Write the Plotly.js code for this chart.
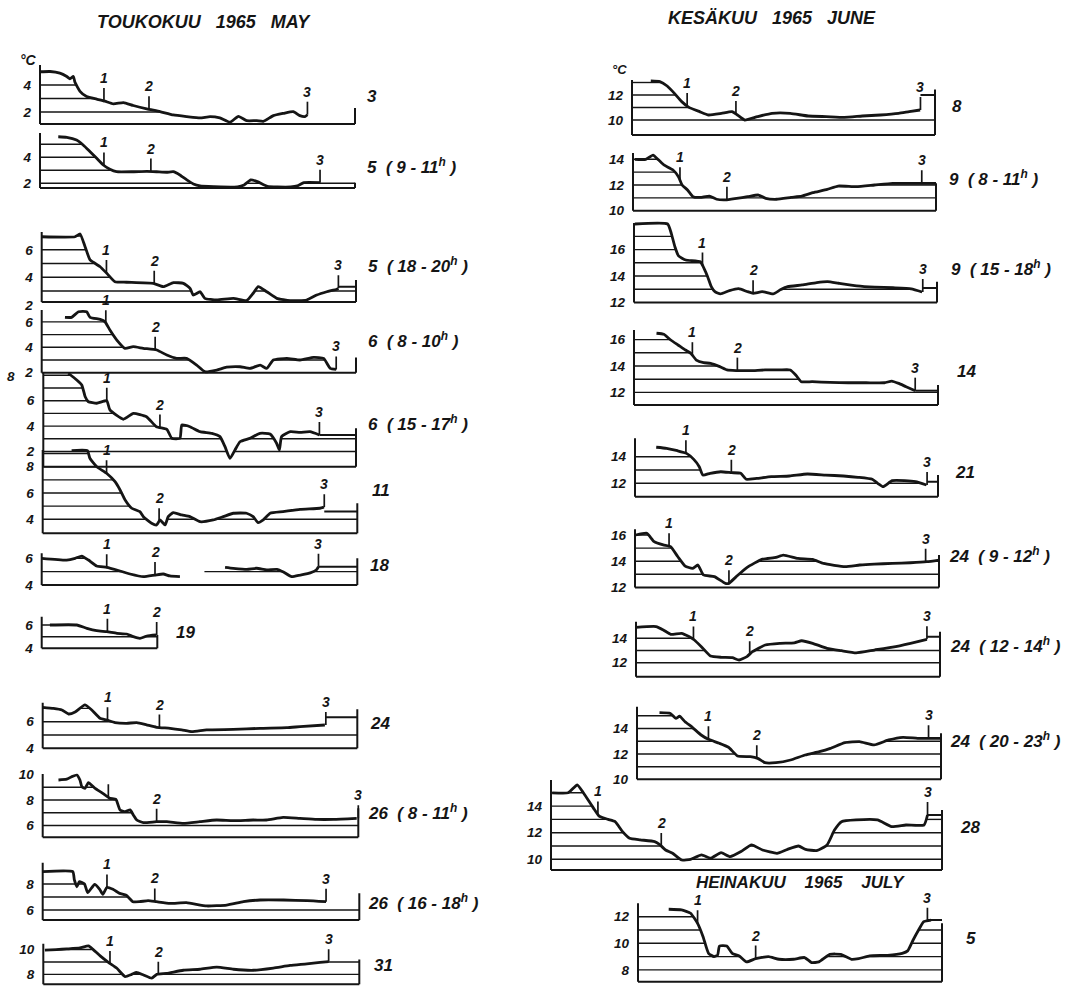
<!DOCTYPE html>
<html>
<head>
<meta charset="utf-8">
<script src="https://cdn.plot.ly/plotly-3.0.1.min.js"></script>
<style>html,body{margin:0;padding:0;background:#fff;}#chart{width:1076px;height:987px;}</style>
</head>
<body>
<div id="chart"></div>
<script>
// ---------- DATA (x = position along the profile, 0..100 of panel length; t = temperature °C) ----------
const may03X = [0,3.2,6.3,8.5,9.5,10.6,11.1,12.7,14.8,18.0,20.6,23.3,26.5,29.6,33.9,38.1,42.3,46.6,50.8,54.0,57.1,60.3,63.0,65.6,68.8,70.9,74.1,77.3,80.4,82.5,84.1,84.9];
const may03T = [4.98,5.0,4.88,4.63,4.46,4.63,4.2,3.53,3.14,2.95,2.8,2.6,2.7,2.48,2.23,2.03,1.78,1.66,1.56,1.66,1.56,1.24,1.68,1.36,1.36,1.31,1.73,1.9,2.03,1.73,1.66,1.8];
const may03Marks = [20.3,34.6,84.9];

const may05aX = [5.8,8.5,11.6,13.7,15.9,18.0,20.1,22.2,24.3,29.6,33.9,37.0,40.2,42.3,44.4,46.6,48.7,50.8,55.1,62.7,64.8,66.9,69.0,72.2,75.4,79.6,81.7,83.8,88.9];
const may05aT = [5.58,5.54,5.33,4.95,4.43,3.92,3.41,3.08,2.89,2.89,2.92,2.89,2.85,2.89,2.64,2.26,1.95,1.8,1.75,1.72,1.87,2.26,2.13,1.77,1.72,1.72,1.8,2.05,2.05];
const may05aMarks = [20.3,35.2,88.9];

const may05bX = [0,10.6,12.2,13.8,15.4,18.6,20.7,23.3,27.0,35.5,38.7,41.9,45.1,47.2,48.2,50.4,51.9,55.7,61.0,65.2,67.3,68.9,71.6,74.8,79.0,84.3,87.5,90.7,93.9,94.4];
const may05bT = [6.95,6.95,7.15,6.23,5.26,4.77,4.29,3.68,3.64,3.56,3.32,3.61,3.56,3.2,2.71,2.95,2.47,2.35,2.47,2.3,2.84,3.32,2.95,2.47,2.3,2.35,2.71,2.95,3.13,3.2];
const may05bMarks = [20.6,35.8,94.4];

const may06aX = [7.4,9.5,11.7,14.3,15.4,18.6,20.1,21.7,23.9,26.5,29.1,32.3,36.6,39.8,42.9,46.1,49.3,51.9,55.7,58.8,63.1,66.3,69.5,71.6,73.7,78.0,82.2,86.5,89.7,91.8,93.7];
const may06aT = [6.36,6.36,6.8,6.8,6.36,6.2,6.02,5.36,4.57,3.92,4.05,3.92,3.79,3.39,3.13,3.13,2.6,2.08,2.21,2.43,2.47,2.34,2.6,2.34,3.0,3.13,3.0,3.2,3.13,2.34,2.26];
const may06aMarks = [20.4,36.1,93.7];

const may06bX = [8.0,10.7,12.3,13.4,14.4,17.1,20.3,21.3,25.6,28.8,33.0,36.2,39.5,41.1,43.7,44.3,46.9,50.1,53.9,56.5,58.1,59.7,61.3,62.9,66.1,69.3,72.5,74.6,75.5,76.2,79.0,82.1,85.3,88.3];
const may06bT = [8.16,7.63,7.24,6.31,5.92,5.8,6.0,5.27,4.54,5.0,4.74,3.95,3.75,3.04,3.04,4.09,3.95,3.56,3.43,3.17,2.38,1.46,2.12,2.77,3.04,3.43,3.38,2.65,2.12,3.17,3.56,3.5,3.56,3.3];
const may06bMarks = [20.3,37.3,88.3];

const may11X = [9.2,14.2,15.0,17.2,20.3,23.0,24.6,26.2,28.3,30.9,32.0,34.6,36.2,37.3,38.9,39.9,41.5,44.2,46.8,50.0,54.2,57.4,60.6,64.8,66.9,68.5,70.1,72.3,76.4,81.8,88.1,89.4];
const may11T = [9.22,9.22,8.64,8.0,7.5,6.86,6.23,5.47,4.84,4.58,4.2,3.7,3.57,3.95,3.57,4.2,4.5,4.33,4.2,3.82,3.95,4.2,4.46,4.46,4.2,3.74,3.95,4.46,4.58,4.76,4.84,4.92];
const may11Marks = [20.3,37.0,89.5];

const may18X = [0,7.9,10.6,12.7,14.8,17.4,20.6,23.8,28.0,32.2,35.9,38.5,40.6,43.8,null,58.1,60.7,65.0,68.1,71.3,74.5,76.6,79.2,81.9,85.1,87.0,87.7];
const may18T = [6.0,5.87,6.0,6.17,5.87,5.42,5.32,5.12,4.82,4.62,4.74,4.82,4.67,4.62,null,5.32,5.25,5.17,5.25,5.12,5.17,4.97,4.62,4.74,4.9,5.12,5.37];
const may18Marks = [20.6,35.9,87.7];

const may19X = [2.6,11.1,14.3,17.4,20.6,23.8,26.9,29.0,31.1,33.3,36.2];
const may19T = [6.0,6.0,5.72,5.52,5.43,5.29,5.23,5.0,4.86,5.06,5.15];
const may19Marks = [20.8,36.4];

const may24X = [0,3.4,6.1,8.2,10.3,13.4,15.6,18.2,20.3,23.0,26.7,29.9,33.0,36.2,40.5,44.2,47.4,52.1,60.6,69.1,77.6,81.8,89.7];
const may24T = [7.08,7.0,6.88,6.58,6.73,7.26,6.88,6.26,6.13,5.93,5.88,5.93,5.76,5.58,5.5,5.38,5.25,5.38,5.42,5.5,5.55,5.63,5.75];
const may24Marks = [20.6,37.1,90.0];

const may26aX = [5.0,7.6,9.2,10.8,11.8,12.4,13.4,14.5,16.6,18.7,21.3,23.2,24.5,26.1,27.7,28.7,29.8,31.9,36.1,39.3,44.6,49.8,55.1,60.3,66.7,70.9,76.2,81.5,86.8,92.1,99.5];
const may26aT = [9.57,9.63,9.83,9.96,9.57,9.04,8.91,9.36,8.91,8.58,8.13,8.05,7.22,7.09,7.22,6.83,6.43,6.22,6.3,6.3,6.17,6.3,6.43,6.38,6.43,6.43,6.64,6.56,6.48,6.48,6.56];
const may26aMarks = [20.8,36.1,100];

const may26bX = [0,9.5,10.0,10.8,11.6,13.2,14.2,16.4,18.0,19.0,20.3,22.2,24.3,26.4,28.5,30.6,33.3,35.9,40.2,45.4,51.8,58.1,63.4,68.7,76.1,83.5,89.5];
const may26bT = [8.95,8.95,8.31,7.79,8.18,8.0,7.33,7.97,7.59,7.21,7.74,7.59,7.28,7.13,6.64,6.64,6.72,6.64,6.51,6.56,6.31,6.38,6.64,6.77,6.77,6.72,6.64];
const may26bMarks = [20.3,35.4,89.5];

const may31X = [0.5,4.2,7.4,11.6,14.3,15.8,18.0,20.6,23.2,25.9,28.0,29.5,31.7,34.3,35.9,39.0,44.3,49.6,54.9,60.2,66.5,72.8,78.1,83.4,87.6,90.3];
const may31T = [9.95,10.0,10.05,10.13,10.3,10.0,9.49,8.97,8.51,7.82,8.0,8.15,7.95,7.69,8.0,8.08,8.33,8.41,8.59,8.41,8.33,8.51,8.72,8.85,8.97,9.03];
const may31Marks = [21.1,36.4,90.3];

const jun08X = [6.2,9.2,11.6,14.0,16.4,18.8,22.3,25.3,29.5,33.0,34.8,37.2,41.4,46.2,52.2,58.1,64.1,70.1,76.0,82.0,88.0,91.5,95.1];
const jun08T = [13.12,13.07,12.72,12.13,11.47,11.01,10.67,10.4,10.53,10.67,10.4,10.0,10.27,10.53,10.53,10.32,10.27,10.21,10.32,10.4,10.53,10.67,10.8];
const jun08Marks = [18.2,34.3,95.2];

const jun09aX = [0.6,4.2,6.6,8.4,10.2,13.2,15.0,16.2,18.0,19.8,22.2,25.2,27.6,30.6,34.2,37.8,41.4,43.8,47.4,52.2,55.7,59.3,64.1,67.7,73.7,79.7,85.7,91.7,95.3,100];
const jun09aT = [14.0,14.0,14.33,13.96,13.56,13.17,12.65,12.0,11.61,11.09,11.04,11.14,10.89,10.84,10.96,11.09,11.22,10.96,10.89,11.04,11.14,11.4,11.66,11.92,11.87,12.0,12.13,12.13,12.13,12.13];
const jun09aMarks = [15.5,31.0,95.3];

const jun09bX = [0.3,11.1,12.3,13.5,14.7,17.1,21.9,23.1,24.3,25.5,26.7,28.5,31.5,34.5,37.5,39.3,42.3,45.9,48.3,50.7,55.5,60.3,63.9,67.5,73.5,79.5,85.5,91.5,95.1];
const jun09bT = [17.94,17.94,17.23,16.22,15.52,15.21,15.08,14.58,13.95,13.19,12.81,12.64,12.89,13.04,12.81,12.69,12.81,12.64,12.95,13.19,13.32,13.5,13.57,13.45,13.26,13.16,13.11,13.03,12.79];
const jun09bMarks = [22.6,39.3,95.3];

const jun14X = [7.4,9.8,12.1,14.5,16.9,18.7,20.5,22.9,25.2,28.2,30.6,33.6,38.3,43.1,47.9,51.4,53.2,55.0,58.6,64.5,70.5,76.4,82.4,84.8,87.1,89.5,92.5];
const jun14T = [16.48,16.4,15.97,15.59,15.21,14.96,14.45,14.25,14.2,13.95,13.7,13.65,13.65,13.7,13.7,13.7,13.32,12.81,12.81,12.76,12.73,12.73,12.73,12.86,12.68,12.43,12.13];
const jun14Marks = [19.2,34.0,92.5];

const jun21X = [7.0,10.4,14.0,17.0,19.4,21.2,22.4,24.8,28.3,31.9,34.9,36.7,40.2,45.0,51.0,56.9,62.9,68.8,73.6,78.3,80.1,81.9,84.9,89.0,92.6,96.2];
const jun21T = [14.71,14.63,14.45,14.25,13.8,13.25,12.62,12.75,12.87,12.8,12.75,12.3,12.37,12.5,12.55,12.7,12.62,12.55,12.45,12.3,12.0,11.75,12.2,12.2,12.12,11.87];
const jun21Marks = [16.8,31.8,96.4];

const jun24aX = [0.3,3.9,6.3,9.3,11.7,14.1,16.5,18.9,20.7,22.5,26.1,29.7,30.9,33.3,36.9,41.7,46.4,48.8,53.6,58.4,62.0,69.1,73.9,78.7,84.7,90.6,96.0,100];
const jun24aT = [16.0,16.13,15.49,15.24,15.11,14.34,13.63,13.45,13.71,12.95,12.82,12.31,12.31,12.82,13.53,14.14,14.29,14.47,14.21,14.14,13.83,13.58,13.71,13.78,13.83,13.88,13.96,14.09];
const jun24aMarks = [11.2,30.9,95.6];

const jun24bX = [0,6.6,9.0,11.4,15.0,17.4,19.2,21.5,24.5,28.1,31.7,33.9,36.5,38.3,42.5,47.3,52.1,54.5,58.1,62.8,67.6,72.4,78.4,84.4,90.3,95.7];
const jun24bT = [14.9,14.96,14.68,14.33,14.41,14.14,13.86,13.31,12.55,12.44,12.41,12.22,12.5,12.9,13.45,13.59,13.63,13.8,13.59,13.18,12.98,12.81,13.04,13.27,13.59,13.92];
const jun24bMarks = [18.9,37.4,95.7];

const jun24cX = [7.4,11.0,12.8,14.0,15.8,18.2,21.1,23.5,27.1,30.1,33.1,37.3,39.7,42.1,45.7,50.5,55.3,60.0,63.6,68.4,73.2,78.0,82.8,87.5,92.3,95.9,100];
const jun24cT = [15.24,15.18,14.79,14.97,14.53,14.09,13.49,13.15,12.84,12.53,11.84,11.79,11.66,11.32,11.32,11.53,11.92,12.18,12.44,12.89,12.97,12.71,13.1,13.31,13.23,13.23,13.23];
const jun24cMarks = [23.5,39.4,95.9];

const jun28X = [0.3,4.4,6.7,8.1,9.5,10.9,12.3,14.6,16.4,18.3,20.1,22.8,26.5,27.9,29.3,31.1,33.4,35.7,38.5,40.8,43.5,45.8,48.6,51.3,54.1,57.8,60.5,63.3,65.1,67.9,70.6,72.5,74.3,78.0,83.5,87.1,90.8,95.4,96.3];
const jun28T = [15.0,15.0,15.59,15.08,14.46,13.83,13.25,13.0,12.83,12.08,11.58,11.46,11.33,11.08,10.7,10.45,9.95,10.0,10.33,10.08,10.5,10.2,10.58,11.08,10.7,10.45,10.75,11.0,10.75,10.65,11.08,12.2,12.83,12.96,12.96,12.46,12.58,12.58,13.33];
const jun28Marks = [12.0,28.2,96.3];

const jul05X = [10.1,14.3,17.3,19.6,21.4,23.2,25.0,26.2,26.8,29.2,31.0,33.3,35.7,38.7,42.9,46.4,51.2,54.8,57.1,59.5,63.1,66.7,70.2,72.6,76.2,82.1,86.9,88.7,90.5,92.3,94.0,96.4];
const jul05T = [12.56,12.51,12.26,11.5,10.5,9.25,9.0,9.12,9.8,9.8,9.25,9.05,8.6,8.85,9.0,8.8,8.8,8.93,8.55,8.6,9.17,9.17,8.8,8.85,9.05,9.1,9.25,9.43,10.25,11.0,11.63,11.75];
const jul05Marks = [19.6,38.7,95.2];

// tick labels (°C) of each panel
const tickSets = [[2,4],[2,4],[2,4,6],[2,4,6],[2,4,6],[4,6,8],[4,6],[4,6],[4,6],[6,8,10],[6,8],[8,10],
                  [10,12],[10,12,14],[12,14,16],[12,14,16],[12,14],[12,14,16],[12,14],[10,12,14],[10,12,14],[8,10,12]];
const extraTick = '8';   // top label of the 6 (15-17h) panel, written beside the "2" of the panel above
// panel captions (day and hours)
const panelLabels = ['3','5  ( 9 - 11<sup>h</sup> )','5  ( 18 - 20<sup>h</sup> )','6  ( 8 - 10<sup>h</sup> )','6  ( 15 - 17<sup>h</sup> )','11','18','19','24','26  ( 8 - 11<sup>h</sup> )','26  ( 16 - 18<sup>h</sup> )','31',
                     '8','9  ( 8 - 11<sup>h</sup> )','9  ( 15 - 18<sup>h</sup> )','14','21','24  ( 9 - 12<sup>h</sup> )','24  ( 12 - 14<sup>h</sup> )','24  ( 20 - 23<sup>h</sup> )','28','5'];
// level (°C) of the end bracket at the right edge, and of the connector from point 3 (null = none)
const rightEndTops = [2.3,2.05,3.8,3.2,3.83,5.22,6.0,5.15,6.93,7.35,7.28,9.2, 12.45,12.13,13.57,12.56,12.62,14.47,14.54,13.62,13.7,11.5];
const connectorLevels = [null,null,3.32,null,3.3,4.6,5.37,null,6.33,null,null,null, 12.0,null,13.1,12.13,12.12,null,14.13,null,13.33,11.75];
const markNames = ['1','2','3'];
const titles = ['TOUKOKUU   1965   MAY','KESÄKUU   1965   JUNE','HEINAKUU    1965    JULY'];

// ---------- LAYOUT GEOMETRY (pixels) ----------
const series = [
 [may03X,may03T,may03Marks],[may05aX,may05aT,may05aMarks],[may05bX,may05bT,may05bMarks],[may06aX,may06aT,may06aMarks],
 [may06bX,may06bT,may06bMarks],[may11X,may11T,may11Marks],[may18X,may18T,may18Marks],[may19X,may19T,may19Marks],
 [may24X,may24T,may24Marks],[may26aX,may26aT,may26aMarks],[may26bX,may26bT,may26bMarks],[may31X,may31T,may31Marks],
 [jun08X,jun08T,jun08Marks],[jun09aX,jun09aT,jun09aMarks],[jun09bX,jun09bT,jun09bMarks],[jun14X,jun14T,jun14Marks],
 [jun21X,jun21T,jun21Marks],[jun24aX,jun24aT,jun24aMarks],[jun24bX,jun24bT,jun24bMarks],[jun24cX,jun24cT,jun24cMarks],
 [jun28X,jun28T,jun28Marks],[jul05X,jul05T,jul05Marks]
];
const geo = [
 {L:40,R:355,top:65,bottom:124,rv:4,rp:85,ppd:13.5,lx:365,ly:97},
 {L:40,R:355,top:133,bottom:188,rv:4,rp:157.3,ppd:13,lx:365,ly:166},
 {L:41.7,R:356,top:232,bottom:302,rv:4,rp:277.3,ppd:13.75,lx:366,ly:265},
 {L:41.7,R:356,top:310,bottom:372.7,rv:2,rp:372.7,ppd:12.7,lx:366,ly:340},
 {L:43.3,R:356,top:373,bottom:466.7,rv:6,rp:400.7,ppd:12.7,lx:366,ly:423},
 {L:42.7,R:357.3,top:450,bottom:533.3,rv:4,rp:519.3,ppd:13.15,lx:370,ly:490},
 {L:41.7,R:357.3,top:553.3,bottom:585,rv:6,rp:558.3,ppd:13.3,lx:368,ly:565},
 {L:41.7,R:157.3,top:616.7,bottom:648.3,rv:6,rp:625,ppd:11.7,lx:174,ly:632,xmax:36.6},
 {L:42.7,R:357.3,top:702.7,bottom:748.3,rv:6,rp:721.7,ppd:13.3,lx:368,ly:723},
 {L:42.7,R:358.3,top:774,bottom:837.3,rv:8,rp:800,ppd:12.75,lx:366,ly:812,hide1:true},
 {L:42.7,R:359.3,top:862.7,bottom:920,rv:8,rp:884,ppd:13,lx:366,ly:902},
 {L:43.3,R:359.3,top:944,bottom:986.3,rv:10,rp:950,ppd:13,lx:372,ly:965},
 {L:632,R:935,top:80,bottom:135,rv:10,rp:120,ppd:12.5,lx:950,ly:106},
 {L:633,R:936,top:153,bottom:210.7,rv:12,rp:185,ppd:12.85,lx:947,ly:178},
 {L:634,R:937,top:223,bottom:302.4,rv:14,rp:276,ppd:13.2,lx:949,ly:268},
 {L:634,R:938,top:330,bottom:405,rv:14,rp:366,ppd:13.2,lx:955,ly:372},
 {L:635,R:938,top:438.3,bottom:496.7,rv:12,rp:483.3,ppd:13.3,lx:953,ly:472},
 {L:635,R:939,top:529.3,bottom:587.4,rv:14,rp:561.2,ppd:13.1,lx:947,ly:555},
 {L:636,R:940,top:621.7,bottom:676.7,rv:14,rp:638.3,ppd:12.2,lx:948,ly:645},
 {L:637,R:941,top:706.7,bottom:779.3,rv:12,rp:754,ppd:12.75,lx:948,ly:740},
 {L:551,R:942,top:780,bottom:870,rv:12,rp:832.7,ppd:13.3,lx:958,ly:827},
 {L:638,R:942,top:903.3,bottom:981.7,rv:10,rp:943.3,ppd:13.3,lx:964,ly:938}
];

const W = 1076, H = 987, PAD = 3, INK = '#151515';
const FONT = 'Liberation Sans, Arial, Helvetica, sans-serif';
const bi = (size) => ({family: FONT, size: size, color: INK, weight: 700, style: 'italic'});

function cleanPts(xs, ts){ const p=[]; for(let i=0;i<xs.length;i++){ if(xs[i]!==null && ts[i]!==null) p.push({x:xs[i],t:ts[i]}); } return p; }
function valueAt(pts, x){
  if (x <= pts[0].x) return pts[0].t;
  for (let i=1;i<pts.length;i++){ if (x <= pts[i].x){ const a=pts[i-1], b=pts[i]; return a.t + (b.t-a.t)*(x-a.x)/(b.x-a.x); } }
  return pts[pts.length-1].t;
}
function hatch(pts, level, xmax){
  const p = pts.slice();
  if (p[0].x > 0) p.unshift({x:0, t:p[0].t});
  if (p[p.length-1].x < xmax) p.push({x:xmax, t:p[p.length-1].t});
  const X=[], Y=[]; let run=false;
  for (let i=0;i<p.length;i++){
    const c=p[i];
    if (i>0){ const q=p[i-1];
      if ((q.t>=level)!==(c.t>=level)){
        const xc = q.x + (level-q.t)*(c.x-q.x)/(c.t-q.t);
        X.push(xc); Y.push(level);
        if (run){ X.push(null); Y.push(null); run=false; } else { run=true; }
      }
    }
    if (c.t>=level){ X.push(c.x); Y.push(level); run=true; }
  }
  return {X, Y};
}

const traces = [], annotations = [], layout = {
  width: W, height: H, margin: {l:0,r:0,t:0,b:0}, paper_bgcolor:'#fff', plot_bgcolor:'rgba(0,0,0,0)',
  showlegend: false, font: {family: FONT, color: INK}
};

series.forEach((s, i) => {
  const g = geo[i];
  const k = i===0 ? '' : String(i+1);
  const xa = 'x'+k, ya = 'y'+k;
  const xmax = g.xmax || 100;
  const pxPerU = (g.R - g.L)/xmax;
  const ymax = g.rv + (g.rp - g.top)/g.ppd;
  const ymin = g.rv - (g.bottom - g.rp)/g.ppd;
  const padU = PAD/pxPerU, padT = PAD/g.ppd;
  layout['xaxis'+k] = {domain:[(g.L-PAD)/W, (g.R+PAD)/W], range:[-padU, xmax+padU], anchor: ya,
    showline:false, showgrid:false, zeroline:false, showticklabels:false, ticks:'', fixedrange:true};
  layout['yaxis'+k] = {domain:[1-(g.bottom+PAD)/H, 1-(g.top-PAD)/H], range:[ymin-padT, ymax+padT], anchor: xa,
    showline:false, showgrid:false, zeroline:false, tickvals: tickSets[i], ticktext: tickSets[i].map(String),
    ticks:'', tickfont: bi(13.5), ticklabelstandoff: 5, fixedrange:true};
  const pts = cleanPts(s[0], s[1]);
  // hatching under the curve, one line per degree
  const lvX=[], lvY=[];
  for (let lv=Math.ceil(ymin+0.3); lv<ymax; lv++){
    const h = hatch(pts, lv, xmax);
    lvX.push(...h.X, null); lvY.push(...h.Y, null);
  }
  traces.push({type:'scatter', mode:'lines', x:lvX, y:lvY, xaxis:xa, yaxis:ya, line:{color:INK, width:1.4}, hoverinfo:'skip'});
  // frame: left axis, base line, right end
  const fx = [0,0,null,0,xmax,null,xmax,xmax], fy=[ymax,ymin,null,ymin,ymin,null,ymin,rightEndTops[i]];
  if (connectorLevels[i] !== null){ const m3 = s[2][s[2].length-1]; fx.push(null, m3, xmax); fy.push(null, connectorLevels[i], connectorLevels[i]); }
  traces.push({type:'scatter', mode:'lines', x:fx, y:fy, xaxis:xa, yaxis:ya, line:{color:INK, width:2}, hoverinfo:'skip'});
  // temperature curve
  traces.push({type:'scatter', mode:'lines', x:s[0], y:s[1], xaxis:xa, yaxis:ya, connectgaps:false,
    line:{color:INK, width:2.8, shape:'spline', smoothing:0.45}, hoverinfo:'skip'});
  // observation points 1,2,3
  const mx=[], my=[];
  s[2].forEach((m, j) => {
    const t0 = valueAt(pts, m), t1 = t0 + 13/g.ppd;
    mx.push(m, m, null); my.push(t0, t1, null);
    if (!(j===0 && g.hide1)) annotations.push({xref:xa, yref:ya, x:m, y:t1, text:markNames[j], showarrow:false,
      xanchor:'center', yanchor:'bottom', yshift:0, font: bi(14)});
  });
  traces.push({type:'scatter', mode:'lines', x:mx, y:my, xaxis:xa, yaxis:ya, line:{color:INK, width:1.7}, hoverinfo:'skip'});
  annotations.push({xref:'paper', yref:'paper', x:g.lx/W, y:1-g.ly/H, text:panelLabels[i], showarrow:false,
    xanchor:'left', yanchor:'middle', font: bi(17)});
});

annotations.push({xref:'paper', yref:'paper', x:11/W, y:1-376/H, text:extraTick, showarrow:false, xanchor:'center', yanchor:'middle', font: bi(13.5)});
annotations.push({xref:'paper', yref:'paper', x:204/W, y:1-22/H, text:titles[0], showarrow:false, xanchor:'center', yanchor:'middle', font: bi(18)});
annotations.push({xref:'paper', yref:'paper', x:772/W, y:1-18/H, text:titles[1], showarrow:false, xanchor:'center', yanchor:'middle', font: bi(18)});
annotations.push({xref:'paper', yref:'paper', x:800/W, y:1-882/H, text:titles[2], showarrow:false, xanchor:'center', yanchor:'middle', font: bi(17)});
annotations.push({xref:'paper', yref:'paper', x:28/W, y:1-60/H, text:'°C', showarrow:false, xanchor:'center', yanchor:'middle', font: bi(14)});
annotations.push({xref:'paper', yref:'paper', x:619/W, y:1-70/H, text:'°C', showarrow:false, xanchor:'center', yanchor:'middle', font: bi(13)});

layout.annotations = annotations;
Plotly.newPlot('chart', traces, layout, {staticPlot:true, displayModeBar:false});
</script>
</body>
</html>
